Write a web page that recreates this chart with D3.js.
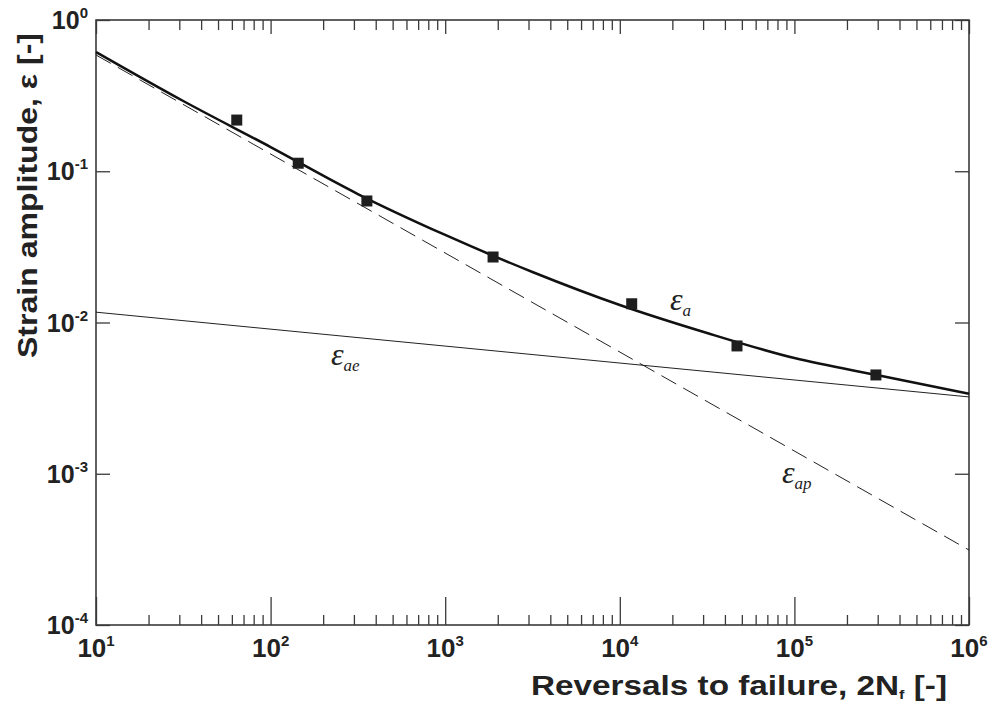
<!DOCTYPE html>
<html>
<head>
<meta charset="utf-8">
<script src="https://cdn.jsdelivr.net/npm/d3@7"></script>
<style>
  body { margin: 0; background: #fff; }
  svg { display: block; }
</style>
</head>
<body>
<div id="chart"></div>
<script>
////////////////////////////// DATA ////////////////////////////////

// measured points (reversals, strain amplitude)
const testReversals = [64, 144, 356, 1880, 11700, 46900, 293000];
const testStrain = [0.218, 0.113, 0.0636, 0.0271, 0.0133, 0.0070, 0.0045];

// total strain curve
const curveReversals = [1e1, 3.16e1, 1e2, 3.16e2, 1e3, 3.16e3, 1e4, 3.16e4, 1e5, 3.16e5, 1e6];
const curveStrain = [0.614, 0.2913, 0.1446, 0.0707, 0.0379, 0.02158, 0.01305, 0.00852, 0.00582, 0.00443, 0.00338];

// elastic and plastic straight lines (end points)
const elasticReversals = [1e1, 1e6];
const elasticStrain = [0.0117, 0.00322];
const plasticReversals = [1e1, 1e6];
const plasticStrain = [0.587, 0.000313];

const xTickExp = [1, 2, 3, 4, 5, 6];
const yTickExp = [0, -1, -2, -3, -4];

////////////////////////////// SET UP ////////////////////////////////

const width = 991;
const height = 704;
const margin = { top: 20, right: 22, bottom: 79, left: 96 };
const innerW = width - margin.left - margin.right;
const innerH = height - margin.top - margin.bottom;

const svg = d3
  .select("#chart")
  .append("svg")
  .attr("width", width)
  .attr("height", height);

const g = svg.append("g").attr("transform", `translate(${margin.left},${margin.top})`);

const x = d3.scaleLog().domain([1e1, 1e6]).range([0, innerW]);
const y = d3.scaleLog().domain([1e-4, 1]).range([innerH, 0]);

const axisColor = "#3a3a3a";
const labelFont = "Liberation Sans, Arial, Helvetica, sans-serif";
const mathFont = "Liberation Serif, Times New Roman, serif";

////////////////////////////// AXES ////////////////////////////////

// minor ticks on x (2..9 per decade)
const xMinor = [];
for (let e = 1; e < 6; e++) {
  for (let m = 2; m <= 9; m++) xMinor.push(m * Math.pow(10, e));
}
const xMajor = xTickExp.map((e) => Math.pow(10, e));

const bottomAxis = d3.axisBottom(x).tickValues(xMinor).tickSizeInner(-10).tickSizeOuter(0).tickFormat("");
const bottomMajor = d3.axisBottom(x).tickValues(xMajor).tickSizeInner(-28).tickSizeOuter(0).tickFormat("");
const topAxis = d3.axisTop(x).tickValues(xMinor).tickSizeInner(-10).tickSizeOuter(0).tickFormat("");
const topMajor = d3.axisTop(x).tickValues(xMajor).tickSizeInner(-14).tickSizeOuter(0).tickFormat("");

const yMajor = yTickExp.map((e) => Math.pow(10, e));
const leftAxis = d3.axisLeft(y).tickValues(yMajor).tickSizeInner(-14).tickSizeOuter(0).tickFormat("");
const rightAxis = d3.axisRight(y).tickValues(yMajor).tickSizeInner(-14).tickSizeOuter(0).tickFormat("");

g.append("g").attr("transform", `translate(0,${innerH})`).call(bottomAxis);
g.append("g").attr("transform", `translate(0,${innerH})`).call(bottomMajor);
g.append("g").call(topAxis);
g.append("g").call(topMajor);
g.append("g").call(leftAxis);
g.append("g").attr("transform", `translate(${innerW},0)`).call(rightAxis);

g.selectAll(".tick line").attr("stroke", axisColor).attr("stroke-width", 1.3);
g.selectAll(".domain").remove();

// frame
g.append("rect")
  .attr("width", innerW)
  .attr("height", innerH)
  .attr("fill", "none")
  .attr("stroke", axisColor)
  .attr("stroke-width", 1.6);

// x tick labels: 10^n
const xLab = g
  .selectAll(".xlab")
  .data(xTickExp)
  .join("text")
  .attr("class", "xlab")
  .attr("x", (d) => x(Math.pow(10, d)))
  .attr("y", innerH + 32)
  .attr("text-anchor", "middle")
  .style("font-family", labelFont)
  .style("font-weight", "bold")
  .style("font-size", "26px")
  .attr("fill", "#222");
xLab.append("tspan").text("10");
xLab.append("tspan").attr("dy", -11).style("font-size", "15px").text((d) => d);

// y tick labels
const yLab = g
  .selectAll(".ylab")
  .data(yTickExp)
  .join("text")
  .attr("class", "ylab")
  .attr("x", -8)
  .attr("y", (d) => y(Math.pow(10, d)) + 9)
  .attr("text-anchor", "end")
  .style("font-family", labelFont)
  .style("font-weight", "bold")
  .style("font-size", "25px")
  .attr("fill", "#222");
yLab.append("tspan").text("10");
yLab.append("tspan").attr("dy", -11).style("font-size", "15px").text((d) => d);

// axis titles (the original lettering is wide, so stretch to its span)
const xTitle = svg
  .append("text")
  .attr("x", 531)
  .attr("y", 695)
  .attr("textLength", 416)
  .attr("lengthAdjust", "spacingAndGlyphs")
  .style("font-family", labelFont)
  .style("font-weight", "bold")
  .style("font-size", "27px")
  .attr("fill", "#222");
xTitle.append("tspan").text("Reversals to failure, 2N");
xTitle.append("tspan").attr("dy", 4).style("font-size", "13px").text("f");
xTitle.append("tspan").attr("dy", -4).text(" [-]");

svg
  .append("text")
  .attr("transform", "translate(37,358) rotate(-90)")
  .attr("textLength", 325)
  .attr("lengthAdjust", "spacingAndGlyphs")
  .style("font-family", labelFont)
  .style("font-weight", "bold")
  .style("font-size", "28px")
  .attr("fill", "#222")
  .text("Strain amplitude, \u03b5 [-]");

////////////////////////////// LINES ////////////////////////////////

const line = d3
  .line()
  .x((d) => x(d[0]))
  .y((d) => y(d[1]));

const plot = g.append("g");

plot
  .append("path")
  .datum(d3.zip(plasticReversals, plasticStrain))
  .attr("fill", "none")
  .attr("stroke", "#222")
  .attr("stroke-width", 1)
  .attr("stroke-dasharray", "17,8")
  .attr("d", line);

plot
  .append("path")
  .datum(d3.zip(elasticReversals, elasticStrain))
  .attr("fill", "none")
  .attr("stroke", "#222")
  .attr("stroke-width", 1)
  .attr("d", line);

plot
  .append("path")
  .datum(d3.zip(curveReversals, curveStrain))
  .attr("fill", "none")
  .attr("stroke", "#111")
  .attr("stroke-width", 2.5)
  .attr("d", line.curve(d3.curveMonotoneX));

// data squares
const sq = 11;
plot
  .selectAll(".pt")
  .data(d3.zip(testReversals, testStrain))
  .join("rect")
  .attr("class", "pt")
  .attr("x", (d) => x(d[0]) - sq / 2)
  .attr("y", (d) => y(d[1]) - sq / 2)
  .attr("width", sq)
  .attr("height", sq)
  .attr("fill", "#1e1e1e");

////////////////////////////// CURVE LABELS ////////////////////////////////

const curveLabels = [
  { sub: "a", px: 670, py: 310 },
  { sub: "ae", px: 331, py: 365 },
  { sub: "ap", px: 782, py: 483 }
];

curveLabels.forEach((c) => {
  const t = svg
    .append("text")
    .attr("x", c.px)
    .attr("y", c.py)
    .style("font-family", mathFont)
    .style("font-style", "italic")
    .style("font-size", "32px")
    .attr("fill", "#222");
  t.append("tspan").text("\u03b5");
  t.append("tspan").attr("dy", 6).style("font-size", "17px").text(c.sub);
});
</script>
</body>
</html>
